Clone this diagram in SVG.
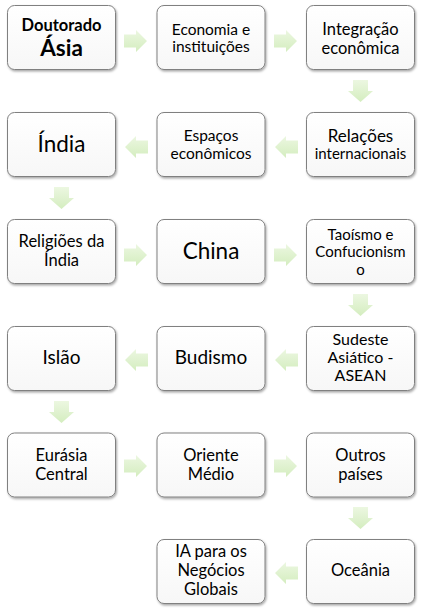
<svg xmlns="http://www.w3.org/2000/svg" width="424" height="613" viewBox="0 0 424 613">
<defs>
<linearGradient id="boxg" x1="0" y1="0" x2="0" y2="1">
<stop offset="0" stop-color="#ffffff"/>
<stop offset="1" stop-color="#f7f7f7"/>
</linearGradient>
<linearGradient id="arrg" x1="0" y1="0" x2="0" y2="1">
<stop offset="0" stop-color="#ecf7e1"/>
<stop offset="1" stop-color="#d4edbf"/>
</linearGradient>
<filter id="sh" x="-10%" y="-10%" width="125%" height="130%">
<feDropShadow dx="1" dy="1.5" stdDeviation="1" flood-color="#000" flood-opacity="0.35"/>
</filter>
<path id="ar" d="M0,4.4 H12 V0 L23,11 L12,22 V17.6 H0 Z"/>
<path id="al" d="M23,4.4 H11 V0 L0,11 L11,22 V17.6 H23 Z"/>
<path id="ad" d="M5,0 H20 V11 H25 L12.5,22 L0,11 H5 Z"/>
</defs>
<style>
.box{fill:url(#boxg);stroke:#808080;stroke-width:1;filter:url(#sh)}
.arr{fill:url(#arrg)}
text{font-family:Lato,"Liberation Sans",sans-serif;fill:#000;text-anchor:middle;font-size:16.5px}
.b{font-weight:bold}
</style>
<g id="connectors">
<use href="#ar" class="arr" x="124" y="30"/>
<use href="#ar" class="arr" x="274" y="30"/>
<use href="#ad" class="arr" x="348" y="80"/>
<use href="#al" class="arr" x="275" y="136"/>
<use href="#al" class="arr" x="125" y="136"/>
<use href="#ad" class="arr" x="49" y="187"/>
<use href="#ar" class="arr" x="124" y="244"/>
<use href="#ar" class="arr" x="274" y="244"/>
<use href="#ad" class="arr" x="348" y="294"/>
<use href="#al" class="arr" x="275" y="349"/>
<use href="#al" class="arr" x="125" y="349"/>
<use href="#ad" class="arr" x="49" y="401"/>
<use href="#ar" class="arr" x="124" y="455"/>
<use href="#ar" class="arr" x="274" y="455"/>
<use href="#ad" class="arr" x="348" y="507"/>
<use href="#al" class="arr" x="275" y="562"/>
</g>
<g id="n1"><rect class="box" x="7.5" y="5.5" width="108" height="64" rx="7"/>
<text class="b" x="61.5" y="31" style="font-size:16.5px">Doutorado</text>
<text class="b" x="61.5" y="56" style="font-size:22.5px">Ásia</text></g>
<g id="n2"><rect class="box" x="157" y="5.5" width="108" height="64" rx="7"/>
<text x="211" y="34.5" style="font-size:15.5px">Economia e</text>
<text x="211" y="52" style="font-size:15.5px">instituições</text></g>
<g id="n3"><rect class="box" x="306.5" y="5.5" width="108" height="64" rx="7"/>
<text x="360.5" y="35" style="font-size:16.5px">Integração</text>
<text x="360.5" y="53.5" style="font-size:16.5px">econômica</text></g>
<g id="n4"><rect class="box" x="306.5" y="112.5" width="108" height="64" rx="7"/>
<text x="360.5" y="141.5" style="font-size:17px">Relações</text>
<text x="360.5" y="159" style="font-size:15px">internacionais</text></g>
<g id="n5"><rect class="box" x="157" y="112.5" width="108" height="64" rx="7"/>
<text x="211" y="140.5" style="font-size:15.5px">Espaços</text>
<text x="211" y="158.5" style="font-size:15.5px">econômicos</text></g>
<g id="n6"><rect class="box" x="7.5" y="112.5" width="108" height="64" rx="7"/>
<text x="61.5" y="152" style="font-size:22.5px">Índia</text></g>
<g id="n7"><rect class="box" x="7.5" y="219.5" width="108" height="64" rx="7"/>
<text x="61.5" y="246.5">Religiões da</text>
<text x="61.5" y="265.5">Índia</text></g>
<g id="n8"><rect class="box" x="157" y="219.5" width="108" height="64" rx="7"/>
<text x="211" y="258.5" style="font-size:22.5px">China</text></g>
<g id="n9"><rect class="box" x="306.5" y="219.5" width="108" height="64" rx="7"/>
<text x="360.5" y="239.5" style="font-size:15px">Taoísmo e</text>
<text x="360.5" y="257" style="font-size:15px">Confucionism</text>
<text x="360.5" y="275" style="font-size:15px">o</text></g>
<g id="n10"><rect class="box" x="306.5" y="326.5" width="108" height="64" rx="7"/>
<text x="360.5" y="345" style="font-size:16px">Sudeste</text>
<text x="360.5" y="363.3" style="font-size:16px">Asiático -</text>
<text x="360.5" y="381" style="font-size:16px">ASEAN</text></g>
<g id="n11"><rect class="box" x="157" y="326.5" width="108" height="64" rx="7"/>
<text x="211" y="363.5" style="font-size:19px">Budismo</text></g>
<g id="n12"><rect class="box" x="7.5" y="326.5" width="108" height="64" rx="7"/>
<text x="61.5" y="363.5" style="font-size:19px">Islão</text></g>
<g id="n13"><rect class="box" x="7.5" y="433" width="108" height="64" rx="7"/>
<text x="61.5" y="461">Eurásia</text>
<text x="61.5" y="480">Central</text></g>
<g id="n14"><rect class="box" x="157" y="433" width="108" height="64" rx="7"/>
<text x="211" y="461">Oriente</text>
<text x="211" y="480">Médio</text></g>
<g id="n15"><rect class="box" x="306.5" y="433" width="108" height="64" rx="7"/>
<text x="360.5" y="461">Outros</text>
<text x="360.5" y="480">países</text></g>
<g id="n16"><rect class="box" x="306.5" y="539.5" width="108" height="64" rx="7"/>
<text x="360.5" y="576">Oceânia</text></g>
<g id="n17"><rect class="box" x="157" y="539.5" width="108" height="64" rx="7"/>
<text x="211" y="557">IA para os</text>
<text x="211" y="576">Negócios</text>
<text x="211" y="595">Globais</text></g>
</svg>
